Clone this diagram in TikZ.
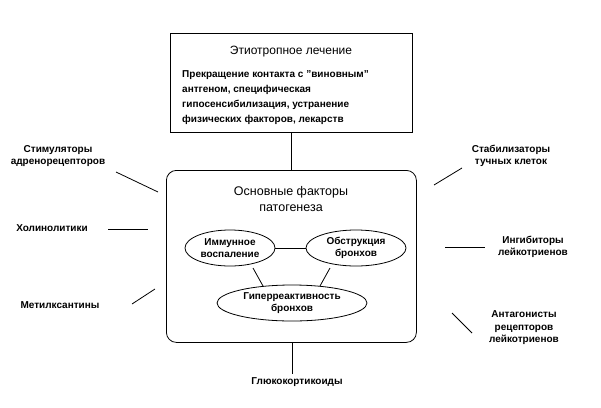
\documentclass[tikz,border=0pt]{standalone}
\usepackage{fontspec}
\setmainfont{Liberation Sans}
\usetikzlibrary{shapes.geometric}
\begin{document}
\begin{tikzpicture}[x=1pt,y=-1pt,
  lbl/.style={font=\fontsize{10}{12.5}\selectfont\bfseries,align=center,inner sep=0},
  ell/.style={draw,thick,ellipse,lbl,minimum height=36},
  ln/.style={thick}]
\useasboundingbox[fill=white] (0,0) rectangle (601,407);
\node[draw,thick,minimum width=242,minimum height=99,anchor=north west] (top) at (170,33) {};
\node[font=\fontsize{12}{14}\selectfont] (toptitle) at (291,52) {Этиотропное лечение};
\node[lbl,align=left,anchor=north west,font=\fontsize{10}{15}\selectfont\bfseries] (topbody) at (182,70) {Прекращение контакта с "виновным"\\антгеном, специфическая\\гипосенсибилизация, устранение\\физических факторов, лекарств};
\node[draw,thick,rounded corners=10,minimum width=250,minimum height=172,anchor=north west] (main) at (166,170) {};
\node[font=\fontsize{12.5}{16.5}\selectfont,align=center] (maintitle) at (291,199) {Основные факторы\\патогенеза};
\node[ell,minimum width=90] (e1) at (230,248) {Иммунное\\воспаление};
\node[ell,minimum width=100] (e2) at (356,248) {Обструкция\\бронхов};
\node[ell,minimum width=150] (e3) at (292,303) {Гиперреактивность\\бронхов};
\draw[ln] (e1) -- (e2);
\coordinate (a1) at (253,268); \coordinate (a2) at (263,286);
\draw[ln] (a1) -- (a2);
\coordinate (b1) at (330,268); \coordinate (b2) at (320,286);
\draw[ln] (b1) -- (b2);
\draw[ln] (top.south) -- (main.north);
\node[lbl] (gk) at (297,382) {Глюкокортикоиды};
\coordinate (g1) at (292,342); \coordinate (g2) at (292,374);
\draw[ln] (g1) -- (g2);
\node[lbl] (sa) at (58,156) {Стимуляторы\\адренорецепторов};
\coordinate (sa1) at (116,172); \coordinate (sa2) at (158,192);
\draw[ln] (sa1) -- (sa2);
\node[lbl] (hl) at (52,228) {Холинолитики};
\coordinate (hl1) at (108,229); \coordinate (hl2) at (148,229);
\draw[ln] (hl1) -- (hl2);
\node[lbl] (mk) at (60,305) {Метилксантины};
\coordinate (mk1) at (132,304); \coordinate (mk2) at (155,289);
\draw[ln] (mk1) -- (mk2);
\node[lbl] (st) at (511,156) {Стабилизаторы\\тучных клеток};
\coordinate (st1) at (434,185); \coordinate (st2) at (462,168);
\draw[ln] (st1) -- (st2);
\node[lbl] (ig) at (533,247) {Ингибиторы\\лейкотриенов};
\coordinate (ig1) at (445,247); \coordinate (ig2) at (485,247);
\draw[ln] (ig1) -- (ig2);
\node[lbl] (an) at (524,328) {Антагонисты\\рецепторов\\лейкотриенов};
\coordinate (an1) at (452,313); \coordinate (an2) at (472,333);
\draw[ln] (an1) -- (an2);
\end{tikzpicture}
\end{document}
